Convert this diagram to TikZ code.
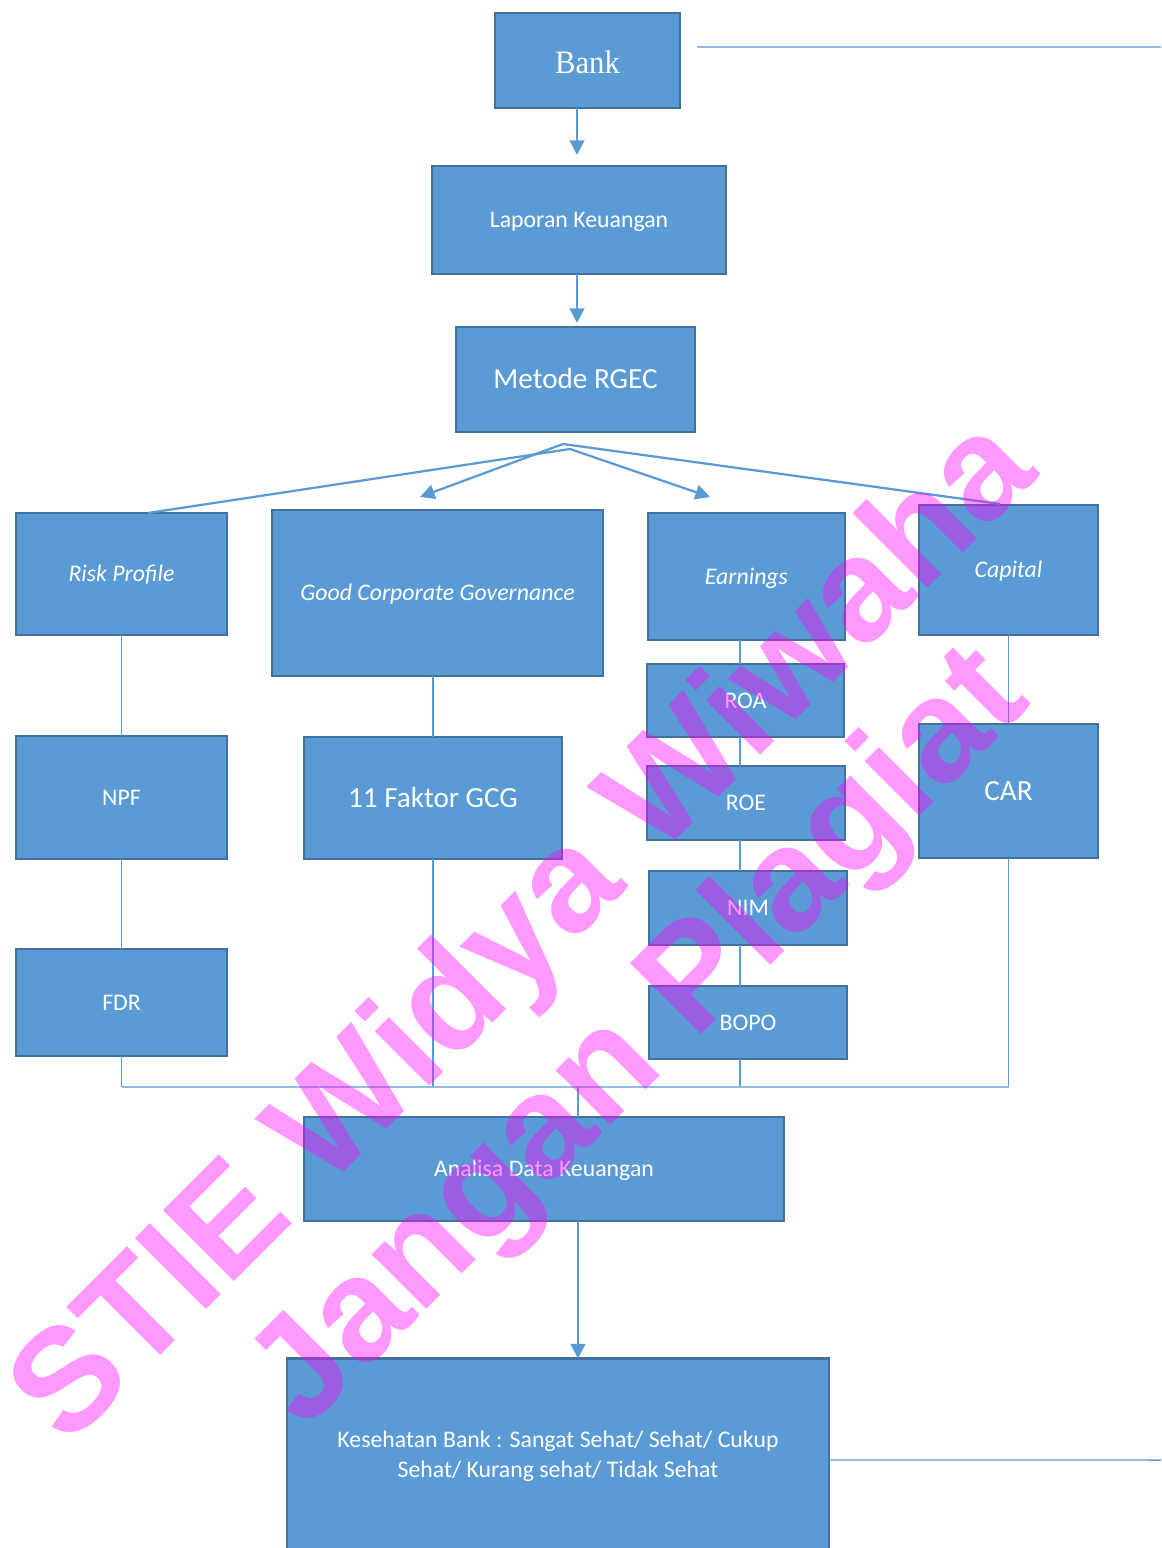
\documentclass[tikz,border=0pt]{standalone}
\usepackage{fontspec}
\setmainfont{Carlito}
\newfontfamily\bankfont{Liberation Serif}
\newfontfamily\wmfont{Liberation Sans}
\usetikzlibrary{arrows.meta}
\definecolor{boxfill}{HTML}{5B9BD5}
\definecolor{boxline}{HTML}{41719C}
\definecolor{conn}{HTML}{5B9BD5}
\definecolor{lightconn}{HTML}{92BCE3}
\definecolor{wmag}{RGB}{255,0,255}
\begin{document}
\begin{tikzpicture}[x=0.75pt,y=-0.75pt,
  box/.style={draw=boxline, fill=boxfill, line width=1.7pt, text=white, inner sep=0pt, outer sep=0pt, align=center, font=\fontsize{17.85}{22.5}\selectfont},
  sm/.style={text height=12.85pt, text depth=1.43pt},
  big/.style={font=\fontsize{21.9}{26}\selectfont, text height=15.8pt, text depth=1.75pt},
  sz/.style 2 args={minimum width=#1*0.75pt, minimum height=#2*0.75pt},
  arr/.style={draw=conn, line width=1.7pt, -{Triangle[width=11pt,length=11pt]}},
  tree/.style={draw=conn, line width=0.9pt},
  wm/.style={font=\wmfont\bfseries\fontsize{109.5}{110}\selectfont, text=wmag, text opacity=0.4, rotate=45, anchor=base, inner sep=0pt}]

\useasboundingbox (0,0) rectangle (1161,1548);

% boxes
\node[box, sz={185}{95}, font=\bankfont\fontsize{24.5}{28}\selectfont, text height=19.8pt, text depth=0pt] (bank) at (587.5,60.5) {\scalebox{0.94}[1]{Bank}};
\node[box, sm, sz={294}{108}] (lap) at (579,220) {Laporan Keuangan};
\node[box, big, sz={239}{105}] (met) at (575.5,379.5) {Metode RGEC};
\node[box, sm, sz={211}{122}] (risk) at (121.5,574) {\itshape Risk Profile};
\node[box, sm, sz={331}{166}] (gcg) at (437.5,593) {\itshape Good Corporate Governance};
\node[box, sm, sz={197}{127}] (earn) at (746.5,576.5) {\itshape Earnings};
\node[box, sm, sz={179}{130}] (cap) at (1008.5,570) {\itshape Capital};
\node[box, sm, sz={211}{123}] (npf) at (121.5,797.5) {NPF};
\node[box, big, sz={258}{122}] (fak) at (433,798) {11 Faktor GCG};
\node[box, sm, sz={197}{73}] (roa) at (745.5,700.5) {ROA};
\node[box, sm, sz={198}{74}] (roe) at (746,803) {ROE};
\node[box, sm, sz={198}{74}] (nim) at (748,908) {NIM};
\node[box, sm, sz={198}{73}] (bopo) at (748,1022.5) {BOPO};
\node[box, big, sz={179}{134}] (car) at (1008.5,791) {CAR};
\node[box, sm, sz={211}{107}] (fdr) at (121.5,1002.5) {FDR};
\node[box, sm, sz={480}{104}] (ana) at (544,1169) {Analisa Data Keuangan};
\node[box, sz={542}{196}] (kes) at (558,1456.5) {Kesehatan Bank : Sangat Sehat/ Sehat/ Cukup\\Sehat/ Kurang sehat/ Tidak Sehat};

% helper coordinates
\coordinate (col) at (577,0);
\coordinate (ecol) at (740,0);
\coordinate (bus) at (0,1087);
\coordinate (mid) at (578,1087);
\coordinate (f1) at ([shift={(-12.5,12)}]met.south);
\coordinate (f2) at ([shift={(-5.5,17)}]met.south);
\coordinate (tr1) at (697,47);
\coordinate (tr2) at (1161,47);
\coordinate (br2) at (1161,1460);

% top arrows
\draw[arr] (bank.south -| col) -- ([yshift=8.25pt]lap.north -| col);
\draw[arr] (lap.south -| col) -- ([yshift=3pt]met.north -| col);

% fork
\draw[arr] (f1) -- ([shift={(-17.5,-13)}]gcg.north);
\draw[conn, line width=1.7pt] (f1) -- ([shift={(-8.5,-1)}]cap.north);
\draw[conn, line width=1.7pt] (f2) -- ([shift={(26.5,0)}]risk.north);
\draw[arr] (f2) -- ([shift={(-36.5,-16)}]earn.north);

% tree lines
\draw[tree] (risk.south) -- (npf.north);
\draw[tree] (npf.south) -- (fdr.north);
\draw[tree] (gcg.south -| fak.north) -- (fak.north);
\draw[tree] (earn.south -| ecol) -- (roa.north -| ecol);
\draw[tree] (roa.south -| ecol) -- (roe.north -| ecol);
\draw[tree] (roe.south -| ecol) -- (nim.north -| ecol);
\draw[tree] (nim.south -| ecol) -- (bopo.north -| ecol);
\draw[tree] (cap.south) -- (car.north);

% bus
\draw[tree] (fdr.south) -- (fdr.south |- bus);
\draw[tree] (fak.south) -- (fak.south |- bus);
\draw[tree] (bopo.south -| ecol) -- (ecol |- bus);
\draw[tree] (car.south) -- (car.south |- bus);
\draw[tree, draw=lightconn, line width=1.2pt] (fdr.south |- bus) -- (car.south |- bus);
\draw[tree] (mid) -- (mid |- ana.north);

% bottom arrow
\draw[arr] (mid |- ana.south) -- (mid |- kes.north);

% side lines
\draw[draw=lightconn, line width=1.4pt] (tr1) -- (tr2);
\draw[draw=conn, line width=1.1pt] ([yshift=-2.6pt]kes.east) -- (br2);

% watermark
\node[wm] (wm1) at (554,962) {STIE Widya Wiwaha};
\node[wm] (wm2) at (669,1067) {Jangan Plagiat};
\end{tikzpicture}
\end{document}
